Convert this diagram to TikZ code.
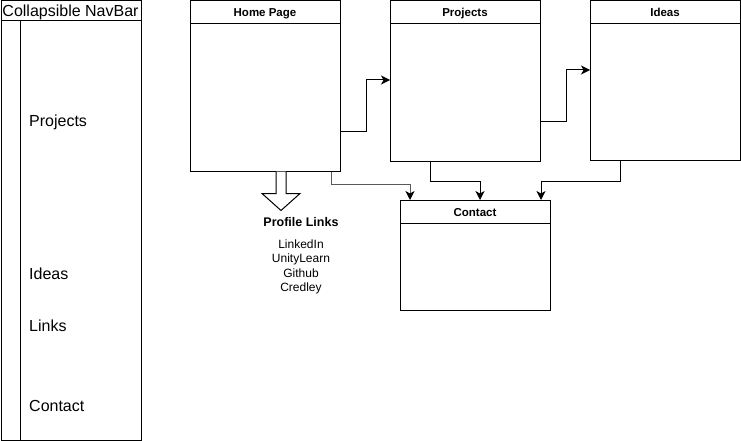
\documentclass[tikz,border=0pt]{standalone}
\usepackage{fontspec}
\setmainfont{Liberation Sans}
\usetikzlibrary{arrows.meta}
\begin{document}
\begin{tikzpicture}[x=1pt,y=-1pt,
  frame/.style={draw, line width=1pt, anchor=north west, inner sep=0pt},
  pagebox/.style={frame, minimum width=150pt},
  pagehead/.style={frame, minimum width=150pt, minimum height=23pt},
  title/.style={anchor=base, inner sep=0pt, font=\fontsize{11.5}{13}\selectfont\bfseries},
  navitem/.style={anchor=base west, inner sep=0pt, font=\fontsize{16}{19}\selectfont},
  linkitem/.style={anchor=base, inner sep=0pt, font=\fontsize{12}{14}\selectfont},
  conn/.style={line width=1pt, -{Stealth[length=9pt,width=9pt,inset=2.5pt,color=black]}},
]
\useasboundingbox (0,0) rectangle (741,441);

% collapsible navigation bar
\node[frame, minimum width=140pt, minimum height=439.5pt] (nav) at (0.5,0.5) {};
\node[frame, minimum width=140pt, minimum height=19.5pt] (navH) at (0.5,0.5) {};
\node[anchor=base, inner sep=0pt, font=\fontsize{16}{19}\selectfont] (navT) at (70.5,16.5) {Collapsible NavBar};
\draw[line width=1pt] ([xshift=19.5pt]navH.south west) -- ([xshift=19.5pt]nav.south west);
\node[navitem] (navProjects) at (29,126.5) {Projects};
\node[navitem] (navIdeas) at (29,279) {Ideas};
\node[navitem] (navLinks) at (29,331.5) {Links};
\node[navitem] (navContact) at (29,411.5) {Contact};

% page boxes
\node[pagebox, minimum height=170pt] (home) at (190,0.5) {};
\node[pagehead] (homeH) at (190,0.5) {};
\node[title] (homeT) at (265,16.7) {Home Page};

\node[pagebox, minimum height=160pt] (proj) at (390,0.5) {};
\node[pagehead] (projH) at (390,0.5) {};
\node[title] (projT) at (465,16.7) {Projects};

\node[pagebox, minimum height=159.5pt, minimum width=149.5pt] (ideas) at (590,0.5) {};
\node[pagehead, minimum width=149.5pt] (ideasH) at (590,0.5) {};
\node[title] (ideasT) at (665,16.7) {Ideas};

\node[pagebox, minimum height=110pt] (contact) at (400,200) {};
\node[pagehead] (contactH) at (400,200) {};
\node[title] (contactT) at (475,216.7) {Contact};

% connectors between pages
\draw[conn] ([yshift=40pt]home.south east) -- ++(25,0) |- ([yshift=-79.5pt]proj.north west);
\draw[conn] ([yshift=40pt]proj.south east) -- ++(25,0) |- ([yshift=-69.5pt]ideas.north west);
\draw[conn] ([xshift=40pt]proj.south west) -- ++(0,20) -| ([xshift=80pt]contact.north west);
\draw[conn] ([xshift=30pt]ideas.south west) -- ++(0,20) -| ([xshift=-10pt]contact.north east);
\draw[conn, draw=black!65] ([xshift=-10pt]home.south east) -- ++(0,13) -| ([xshift=10pt]contact.north west);

% hollow arrow towards the profile links
\draw[line width=1pt, fill=white] ([xshift=86pt]home.south west) -- ++(0,22) -- ++(-14,0)
  -- ++(19,17) -- ++(19,-17) -- ++(-14,0) -- ++(0,-22);
\node[anchor=base, inner sep=0pt, font=\fontsize{12.5}{15}\selectfont\bfseries] (plinks) at (301,226.5) {Profile Links};
\node[linkitem] (lLinkedIn) at (301,248) {LinkedIn};
\node[linkitem] (lUnity) at (301,262.5) {UnityLearn};
\node[linkitem] (lGithub) at (301,277) {Github};
\node[linkitem] (lCredley) at (301,291.5) {Credley};
\end{tikzpicture}
\end{document}
